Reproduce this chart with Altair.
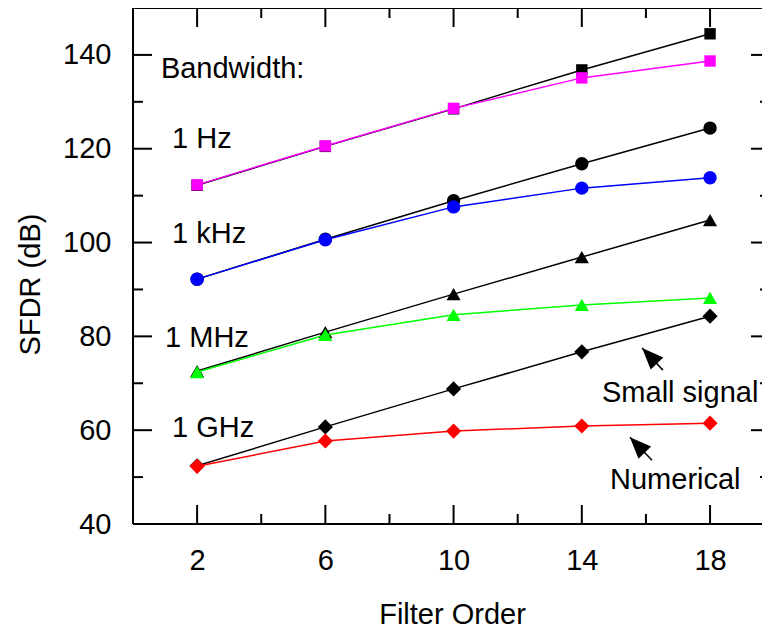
import altair as alt
import pandas as pd

# ---- data ----
orders = [2, 6, 10, 14, 18]
small_1hz = [112.2, 120.5, 128.5, 136.8, 144.5]
num_1hz = [112.3, 120.6, 128.6, 135.1, 138.7]
small_1khz = [92.2, 100.7, 108.9, 116.8, 124.4]
num_1khz = [92.2, 100.6, 107.6, 111.6, 113.8]
small_1mhz = [72.6, 80.9, 89.0, 96.9, 104.8]
num_1mhz = [72.4, 80.3, 84.6, 86.7, 88.2]
small_1ghz = [52.4, 60.7, 68.8, 76.7, 84.3]
num_1ghz = [52.3, 57.7, 59.8, 60.9, 61.5]

x_major = [2, 6, 10, 14, 18]
x_minor = [4, 8, 12, 16]
y_major = [40, 60, 80, 100, 120, 140]
y_minor = [50, 70, 90, 110, 130]

ann_text = ["Bandwidth:", "1 Hz", "1 kHz", "1 MHz", "1 GHz", "Small signal", "Numerical"]
ann_x = [0.87, 1.22, 1.22, 1.00, 1.22, 14.63, 14.88]
ann_y = [135.1, 120.2, 99.9, 77.7, 58.5, 66.0, 47.5]

arrow_x = [16.53, 16.19]
arrow_y = [72.8, 53.6]
arrow_x2 = [15.88, 15.50]
arrow_y2 = [77.5, 58.5]

FONT = "Liberation Sans"
FS = 29
W, H = 629, 516      # visible plot width (svg clipped at page edge)
RW = 637             # full scale range (right frame falls just off-page)

xs = alt.Scale(domain=[0, 19.87], range=[0, RW], nice=False, zero=False)
ys = alt.Scale(domain=[40, 150], nice=False, zero=False)

x_axis = alt.Axis(values=x_major, ticks=False, tickSize=0, domain=False, grid=False,
                  labelFontSize=FS, labelPadding=22, labelFlush=False, labelOverlap=False,
                  title="Filter Order", titleFontSize=FS, titleFontWeight="normal",
                  titleX=319, titleY=99, titleBaseline="alphabetic", titleAlign="center")
y_axis = alt.Axis(values=y_major, ticks=False, tickSize=0, domain=False, grid=False,
                  labelFontSize=FS, labelPadding=22, labelFlush=False, labelOverlap=False,
                  title="SFDR (dB)", titleFontSize=FS, titleFontWeight="normal",
                  titleAngle=270, titleX=-103, titleY=276, titleBaseline="middle",
                  titleAlign="center")


def X(field):
    return alt.X(field, scale=xs, axis=x_axis)


def Y(field):
    return alt.Y(field, scale=ys, axis=y_axis)


def series(vals, color, shape, size):
    df = pd.DataFrame({"order": orders, "sfdr": vals})
    base = alt.Chart(df).encode(x=X("order:Q"), y=Y("sfdr:Q"))
    line = base.mark_line(color=color, strokeWidth=1.5)
    pts = base.mark_point(filled=True, shape=shape, size=size, color=color,
                          opacity=1, strokeWidth=0)
    return [line, pts]


def xticks(vals, length):
    df = pd.DataFrame({"v": vals})
    b = alt.Chart(df).mark_rule(color="black", strokeWidth=2)
    return [b.encode(x=X("v:Q"), y=alt.value(H), y2=alt.value(H - length)),
            b.encode(x=X("v:Q"), y=alt.value(0), y2=alt.value(length))]


def yticks(vals, length):
    df = pd.DataFrame({"v": vals})
    b = alt.Chart(df).mark_rule(color="black", strokeWidth=2)
    return [b.encode(y=Y("v:Q"), x=alt.value(0), x2=alt.value(length)),
            b.encode(y=Y("v:Q"), x=alt.value(RW), x2=alt.value(RW - length))]


frame_df = pd.DataFrame({"k": [0]})
frame = alt.Chart(frame_df).mark_rule(color="black", strokeWidth=2)
layers = [
    frame.encode(x=alt.value(0), x2=alt.value(RW), y=alt.value(0)),
    frame.encode(x=alt.value(0), x2=alt.value(RW), y=alt.value(H)),
    frame.encode(x=alt.value(0), y=alt.value(0), y2=alt.value(H)),
]
layers += xticks(x_major, 19) + xticks(x_minor, 10)
layers += yticks(y_major[1:], 19) + yticks(y_minor, 10)

layers += series(small_1hz, "black", "square", 130)
layers += series(small_1khz, "black", "circle", 180)
layers += series(small_1mhz, "black", "triangle-up", 200)
layers += series(small_1ghz, "black", "diamond", 230)
layers += series(num_1hz, "#FF00FF", "square", 130)
layers += series(num_1khz, "#0000FF", "circle", 180)
layers += series(num_1mhz, "#00FF00", "triangle-up", 200)
layers += series(num_1ghz, "#FF0000", "diamond", 230)

ann_df = pd.DataFrame({"t": ann_text, "x": ann_x, "y": ann_y})
layers.append(
    alt.Chart(ann_df).mark_text(align="left", baseline="alphabetic", fontSize=FS,
                                font=FONT, color="black").encode(
        x=X("x:Q"), y=Y("y:Q"), text="t:N",
    )
)

arr_df = pd.DataFrame({"x": arrow_x, "y": arrow_y, "x2": arrow_x2, "y2": arrow_y2})
layers.append(
    alt.Chart(arr_df).mark_rule(color="black", strokeWidth=1.5).encode(
        x=X("x:Q"), y=Y("y:Q"), x2="x2:Q", y2="y2:Q",
    )
)
layers.append(
    alt.Chart(arr_df).mark_point(filled=True, color="black", opacity=1, strokeWidth=0,
                                 shape="M0,0 L0.9,2.2 L-0.9,2.2 Z", size=380,
                                 angle=316).encode(
        x=X("x2:Q"), y=Y("y2:Q"),
    )
)

chart = alt.layer(*layers).properties(
    width=W, height=H,
    autosize=alt.AutoSizeParams(type="none"),
    padding={"left": 125, "top": 0, "right": 0, "bottom": 106},
    background="white",
).configure_view(
    stroke=None
).configure_axis(
    labelFont=FONT, titleFont=FONT, labelColor="black", titleColor="black"
)

chart.save("out.html", embed_options={"renderer": "svg", "actions": False})
